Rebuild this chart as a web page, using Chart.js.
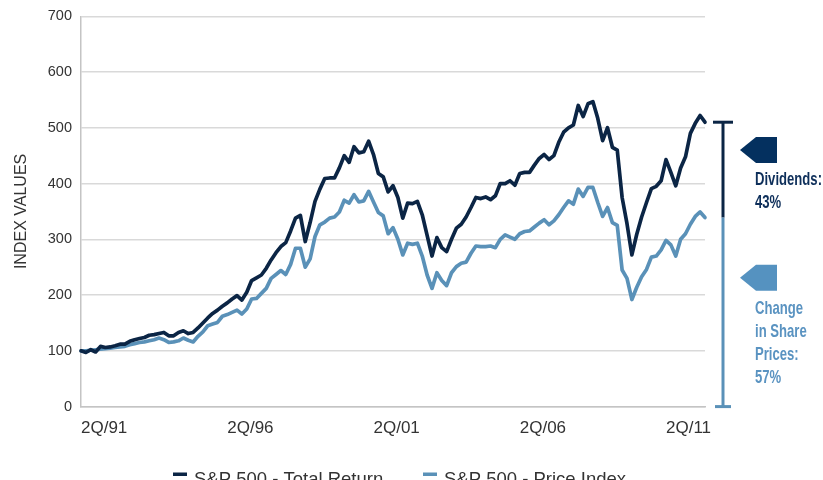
<!DOCTYPE html>
<html>
<head>
<meta charset="utf-8">
<script src="https://cdn.jsdelivr.net/npm/chart.js@4.4.1/dist/chart.umd.min.js"></script>
<style>
  html, body { margin: 0; padding: 0; background: #fff; overflow: hidden; }
  #chart { display: block; }
</style>
</head>
<body>
<canvas id="chart" width="823" height="480"></canvas>
<script>
// S&P 500 total return vs price index, both rebased to 100 at 2Q/91
// one reading every two months

const totalReturn = [
  100, 97, 102, 98, 108, 106, 107, 109, 112, 112,
  117, 120, 122, 124, 128, 129, 131, 133, 127, 127,
  133, 136, 131, 133, 141, 150, 159, 167, 173, 180,
  186, 193, 199, 191, 205, 226, 231, 236, 248, 263,
  276, 287, 294, 315, 338, 343, 296, 330, 368, 390,
  409, 410, 410, 428, 450, 438, 466, 455, 457, 476,
  452, 418, 412, 385, 396, 375, 338, 365, 364, 368,
  344, 307, 270, 303, 285, 278, 300, 320, 327, 340,
  357, 375, 373, 376, 371, 378, 400, 400, 405, 397,
  418, 420, 420, 433, 445, 452, 443, 450, 474, 492,
  500, 505, 540, 520, 543, 547, 517, 477, 500, 465,
  460, 375, 328, 272, 309, 340, 366, 391, 395, 405,
  443, 420, 396, 428, 448, 490, 508, 522, 510
];

const priceIndex = [
  100, 100, 101, 102, 103, 104, 105, 106, 107, 108,
  111, 113, 115, 116, 118, 120, 123, 120, 115, 116,
  118, 123, 119, 116, 126, 134, 145, 148, 151, 162,
  165, 169, 173, 166, 175, 193, 194, 203, 212, 230,
  237, 244, 237, 255, 284, 284, 250, 265, 305, 326,
  331, 338, 340, 349, 370, 365, 380, 367, 369, 386,
  367, 348, 342, 310, 321, 300, 272, 293, 291, 293,
  270, 236, 212, 240, 226, 217, 240, 251, 257, 259,
  275, 288, 287, 287, 288, 285, 300, 308, 304, 300,
  310, 314, 315, 322, 329, 335, 326, 333, 344, 357,
  369, 363, 390, 377, 393, 393, 366, 341, 357, 330,
  325, 245, 230, 192, 214, 233, 246, 268, 270, 281,
  298, 290, 270, 300, 310, 327, 341, 349, 339
];

const seriesNames = ['S&P 500 - Total Return', 'S&P 500 - Price Index'];
const tickLabels = ['2Q/91', '2Q/96', '2Q/01', '2Q/06', '2Q/11'];
const tickEvery = 30;            // readings between two labels (5 years)
const dividendNote = ['Dividends:', '43%'];
const priceNote = ['Change', 'in Share', 'Prices:', '57%'];

const monthNames = ['Jan','Feb','Mar','Apr','May','Jun','Jul','Aug','Sep','Oct','Nov','Dec'];
const periods = [];
for (let i = 0; i < totalReturn.length; i++) {
  const m = 3 + i * 2;           // months after Jan 1991
  periods.push(monthNames[m % 12] + ' ' + (1991 + Math.floor(m / 12)));
}

const DARK = '#0b2545';
const LIGHT = '#5a91b8';
const ARROW_DARK = '#04305f';
const ARROW_LIGHT = '#5592c0';
const FONT = '"Liberation Sans", Arial, Helvetica, sans-serif';
const NARROW = 'bold 18.5px "Liberation Sans Narrow", "Liberation Sans", Arial, sans-serif';

Chart.defaults.font.family = FONT;

function arrow(ctx, tipX, cy, color) {
  ctx.fillStyle = color;
  ctx.beginPath();
  ctx.moveTo(tipX, cy);
  ctx.lineTo(tipX + 16, cy - 13);
  ctx.lineTo(tipX + 37, cy - 13);
  ctx.lineTo(tipX + 37, cy + 13);
  ctx.lineTo(tipX + 16, cy + 13);
  ctx.closePath();
  ctx.fill();
}

function noteText(ctx, lines, x, y, color, sx) {
  ctx.fillStyle = color;
  lines.forEach((t, i) => {
    ctx.save();
    ctx.translate(x, y + i * 23);
    ctx.scale(sx, 1);
    ctx.fillText(t, 0, 0);
    ctx.restore();
  });
}

// bracket + arrows on the right side
const sideNotes = {
  id: 'sideNotes',
  afterDraw(chart) {
    const { ctx, chartArea, scales: { y } } = chart;
    const last = totalReturn.length - 1;
    const topY = y.getPixelForValue(totalReturn[last]);
    const midY = y.getPixelForValue(priceIndex[last]);
    const baseY = y.getPixelForValue(0);
    const bx = chartArea.right + 18;

    ctx.save();
    ctx.lineWidth = 3;
    ctx.strokeStyle = DARK;
    ctx.beginPath(); ctx.moveTo(bx, topY); ctx.lineTo(bx, midY); ctx.stroke();
    ctx.beginPath(); ctx.moveTo(bx - 10, topY); ctx.lineTo(bx + 10, topY); ctx.stroke();
    ctx.strokeStyle = LIGHT;
    ctx.beginPath(); ctx.moveTo(bx, midY); ctx.lineTo(bx, baseY); ctx.stroke();
    ctx.beginPath(); ctx.moveTo(bx - 8, baseY); ctx.lineTo(bx + 8, baseY); ctx.stroke();

    const a1 = y.getPixelForValue(460);
    const a2 = y.getPixelForValue(231);
    arrow(ctx, bx + 17, a1, ARROW_DARK);
    arrow(ctx, bx + 17, a2, ARROW_LIGHT);

    ctx.font = NARROW;
    ctx.textBaseline = 'alphabetic';
    ctx.textAlign = 'left';
    const sx = 67 / ctx.measureText(dividendNote[0]).width;
    noteText(ctx, dividendNote, bx + 32, a1 + 34.5, '#0e2f5a', sx);
    noteText(ctx, priceNote, bx + 32, a2 + 36, '#5a93c1', sx);
    ctx.restore();
  }
};

// legend along the bottom edge (cut off by the frame, like the original)
const bottomLegend = {
  id: 'bottomLegend',
  afterDraw(chart) {
    const { ctx } = chart;
    const spots = [173, 423];
    ctx.save();
    ctx.font = '18.5px ' + FONT;
    ctx.textBaseline = 'alphabetic';
    chart.data.datasets.forEach((ds, i) => {
      ctx.fillStyle = ds.borderColor;
      ctx.fillRect(spots[i], 472.5, 14, 3.5);
      ctx.fillStyle = '#333';
      ctx.fillText(ds.label, spots[i] + 21, 485);
    });
    ctx.restore();
  }
};

new Chart(document.getElementById('chart'), {
  type: 'line',
  data: {
    labels: periods,
    datasets: [
      { label: seriesNames[0], data: totalReturn, borderColor: DARK, backgroundColor: DARK },
      { label: seriesNames[1], data: priceIndex, borderColor: LIGHT, backgroundColor: LIGHT }
    ]
  },
  options: {
    responsive: false,
    devicePixelRatio: 1,
    animation: false,
    elements: {
      line: { borderWidth: 3.7, tension: 0, borderJoinStyle: 'round', borderCapStyle: 'round' },
      point: { radius: 0 }
    },
    layout: { padding: { left: 8, right: 118, top: 15, bottom: 29 } },
    plugins: { legend: { display: false }, tooltip: { enabled: false } },
    scales: {
      x: {
        grid: { display: false, drawTicks: false },
        border: { display: true, color: '#c4c4c4', width: 1.5 },
        ticks: {
          autoSkip: false, maxRotation: 0, align: 'start', padding: 12,
          color: '#333', font: { size: 17 },
          callback: (v) => tickLabels[v / tickEvery]
        },
        afterBuildTicks(scale) {
          scale.ticks = scale.ticks.filter(t => t.value % tickEvery === 0);
        }
      },
      y: {
        min: 0, max: 700,
        ticks: { stepSize: 100, padding: 9, color: '#333', font: { size: 14.5, lineHeight: 1 } },
        grid: { color: '#d9d9d9', lineWidth: 1.5, drawTicks: false },
        border: { display: true, color: '#c4c4c4', width: 1.5 },
        title: { display: true, text: 'INDEX VALUES', color: '#333', font: { size: 16 }, padding: { top: 4, bottom: 0 } },
        afterFit(scale) { scale.width = 73; }
      }
    }
  },
  plugins: [sideNotes, bottomLegend]
});
</script>
</body>
</html>
